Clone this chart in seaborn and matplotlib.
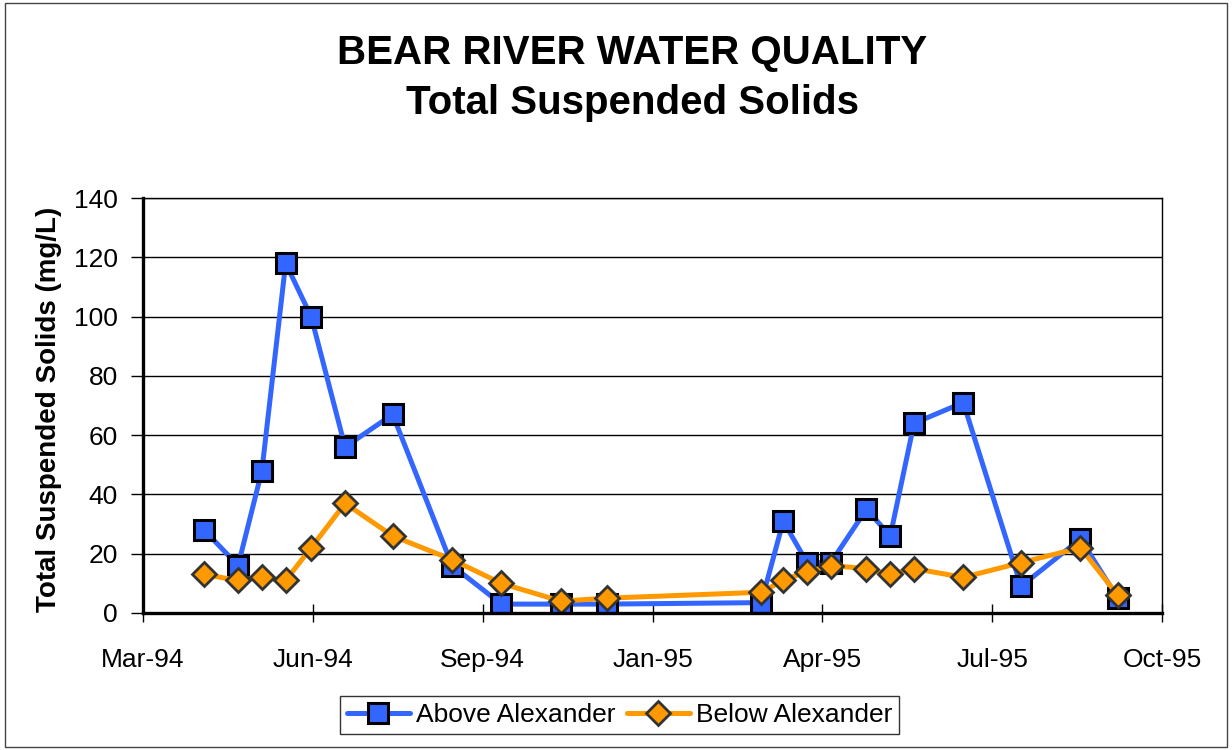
""" Bear River water quality - total suspended solids. """
import pandas as pd
import seaborn as sns
import matplotlib.pyplot as plt
import matplotlib.dates as mdates
from matplotlib.patches import Rectangle

sns.set_theme(style="white")
plt.rcParams['font.family'] = ['Liberation Sans', 'DejaVu Sans']
plt.rcParams.update({"text.color": "black", "axes.labelcolor": "black",
                     "xtick.color": "black", "ytick.color": "black"})

# sample dates (same for both stations)
sample_dates = ["1994-04-12", "1994-05-02", "1994-05-16", "1994-05-30", "1994-06-14",
                "1994-07-04", "1994-08-01", "1994-09-05", "1994-10-04", "1994-11-08",
                "1994-12-05", "1995-03-06", "1995-03-19", "1995-04-02", "1995-04-16",
                "1995-05-07", "1995-05-21", "1995-06-04", "1995-07-03", "1995-08-06",
                "1995-09-10", "1995-10-02"]
above_tss = [28, 16, 48, 118, 100, 56, 67, 16, 3, 3, 3, 3.5, 31, 17, 17, 35, 26, 64, 71, 9, 25, 5]
below_tss = [13, 11, 12, 11, 22, 37, 26, 18, 10, 4, 5, 7, 11, 14, 16, 15, 13, 15, 12, 17, 22, 6]

# Excel-style date axis: every 100 days from serial 34400
tick_dates = pd.date_range("1994-03-07", periods=7, freq="100D")

dates = pd.to_datetime(sample_dates)

fig = plt.figure(figsize=(12.32, 7.5), dpi=100)
ax = fig.add_axes([143 / 1232, 137 / 750, 1019 / 1232, 415 / 750])

sns.lineplot(x=dates, y=above_tss, ax=ax, color="#3366FF", lw=3.6,
             marker="s", markersize=14, markerfacecolor="#3366FF",
             markeredgecolor="black", markeredgewidth=2.2, label="Above Alexander")
sns.lineplot(x=dates, y=below_tss, ax=ax, color="#FF9900", lw=3.6,
             marker="D", markersize=12.5, markerfacecolor="#FF9900",
             markeredgecolor="#333333", markeredgewidth=2, label="Below Alexander")

ax.set_xlim(tick_dates[0], tick_dates[-1])
ax.set_xticks(tick_dates)
ax.xaxis.set_major_formatter(mdates.DateFormatter("%b-%y"))
ax.set_ylim(0, 140)
ax.set_yticks(range(0, 141, 20))
ax.yaxis.grid(True, color="black", lw=1)
ax.set_axisbelow(True)

ax.tick_params(axis="x", direction="inout", length=13, width=1, pad=19, labelsize=19)
ax.tick_params(axis="y", direction="out", length=9, width=1, pad=9, labelsize=19)
ax.tick_params(left=True, bottom=True)

for side in ["left", "bottom"]:
    ax.spines[side].set_color("black")
    ax.spines[side].set_linewidth(2.4)
for side in ["top", "right"]:
    ax.spines[side].set_color("black")
    ax.spines[side].set_linewidth(1)

ax.set_xlabel("")
ax.set_ylabel("Total Suspended Solids (mg/L)", fontsize=20, fontweight="bold")
ax.yaxis.set_label_coords((62 - 143) / 1019, 0.49)

fig.text(0.513, 0.93, "BEAR RIVER WATER QUALITY", ha="center", va="center",
         fontsize=29, fontweight="bold")
fig.text(0.513, 0.863, "Total Suspended Solids", ha="center", va="center",
         fontsize=29, fontweight="bold")

ax.get_legend().remove()
handles, labels = ax.get_legend_handles_labels()
leg = fig.legend(handles, labels, loc="center", bbox_to_anchor=(0.503, 0.0467), ncol=2,
                 fontsize=19, frameon=True, fancybox=False, edgecolor="black",
                 handlelength=2.4, columnspacing=0.4, handletextpad=0.25,
                 borderpad=0.25, borderaxespad=0.1)
leg.get_frame().set_linewidth(1)

fig.patches.append(Rectangle((0.004, 0.004), 0.992, 0.992, transform=fig.transFigure,
                             fill=False, edgecolor="#444444", lw=1))

fig.savefig("out.png", dpi=100)
